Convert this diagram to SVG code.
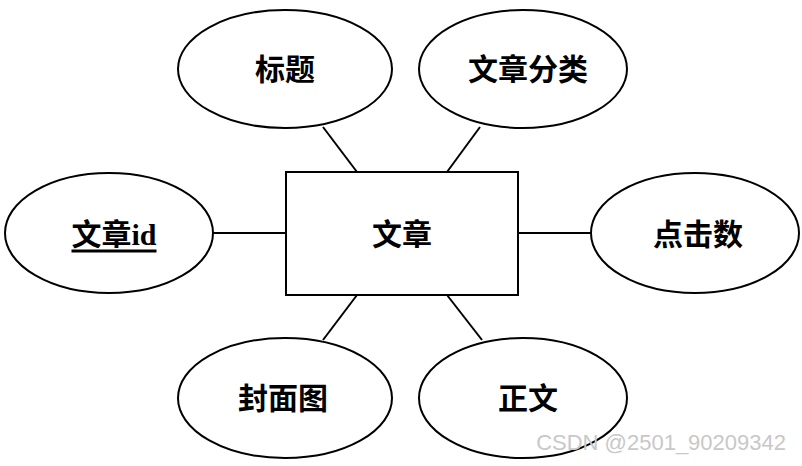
<svg xmlns="http://www.w3.org/2000/svg" width="802" height="466" viewBox="0 0 802 466">
<style>
.s{fill:#fff;stroke:#000;stroke-width:2}
.t{font-family:"Liberation Serif","Noto Sans CJK SC",serif;font-size:30px;font-weight:bold;text-anchor:middle;dominant-baseline:central}
.c line{stroke:#000;stroke-width:2}
</style>
<rect width="802" height="466" fill="#fff"/>
<g class="c" id="connectors">
<line x1="323" y1="127" x2="357" y2="172"/>
<line x1="480" y1="127" x2="447" y2="172"/>
<line x1="212" y1="233" x2="286" y2="233"/>
<line x1="518" y1="233" x2="591" y2="233"/>
<line x1="357" y1="295" x2="323" y2="340"/>
<line x1="447" y1="295" x2="482" y2="340"/>
</g>
<g id="wenzhang"><rect class="s" x="286" y="172" width="232" height="123"/><text class="t" x="402" y="234">文章</text></g>
<g id="biaoti"><ellipse class="s" cx="285" cy="69" rx="107" ry="59"/><text class="t" x="285" y="69">标题</text></g>
<g id="fenlei"><ellipse class="s" cx="523" cy="69" rx="104" ry="59"/><text class="t" x="528" y="69">文章分类</text></g>
<g id="wzid"><ellipse class="s" cx="109" cy="233" rx="104" ry="60"/><text class="t" x="114" y="234" text-decoration="underline">文章id</text></g>
<g id="djs"><ellipse class="s" cx="695" cy="233" rx="104" ry="60"/><text class="t" x="698" y="234">点击数</text></g>
<g id="fmt"><ellipse class="s" cx="285" cy="398" rx="107" ry="60"/><text class="t" x="283" y="398">封面图</text></g>
<g id="zw"><ellipse class="s" cx="523" cy="398" rx="104" ry="60"/><text class="t" x="528" y="398">正文</text></g>
<text x="786" y="450" font-family="Liberation Sans,sans-serif" font-size="22" fill="#c8c8c8" text-anchor="end">CSDN @2501_90209342</text>
</svg>
